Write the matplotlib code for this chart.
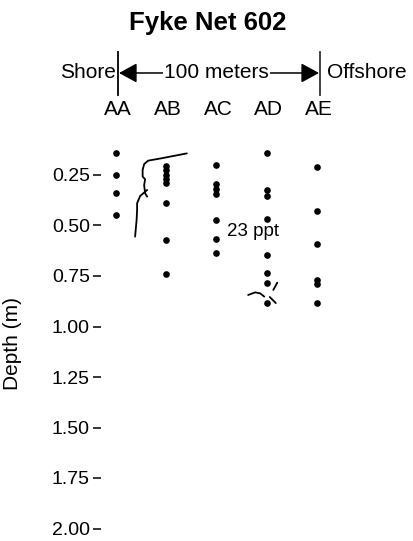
import matplotlib
matplotlib.use('Agg')
import matplotlib.pyplot as plt

plt.rcParams['font.family'] = ['Liberation Sans', 'DejaVu Sans']

# stations along the transect (shore -> offshore)
stations = ['AA', 'AB', 'AC', 'AD', 'AE']
depth_ticks = [0.25, 0.50, 0.75, 1.00, 1.25, 1.50, 1.75, 2.00]

# sample depths (m) at each station
aa_depths = [0.14, 0.25, 0.34, 0.45]
ab_depths = [0.203, 0.225, 0.248, 0.270, 0.290, 0.39, 0.57, 0.74]
ac_depths = [0.20, 0.295, 0.319, 0.344, 0.473, 0.568, 0.635]
ad_depths = [0.14, 0.324, 0.354, 0.47, 0.645, 0.735, 0.785, 0.885]
ae_depths = [0.21, 0.43, 0.59, 0.772, 0.792, 0.885]
all_depths = [aa_depths, ab_depths, ac_depths, ad_depths, ae_depths]

# hand drawn pen marks on the original sheet (station units, depth)
pen_a_x = [1.41, 0.91, 0.64, 0.56, 0.53, 0.53, 0.58, 0.56, 0.58, 0.62]
pen_a_y = [0.143, 0.167, 0.179, 0.196, 0.225, 0.258, 0.271, 0.30, 0.341, 0.357]
pen_b_x = [0.62, 0.48, 0.42, 0.42, 0.41, 0.38]
pen_b_y = [0.324, 0.354, 0.390, 0.423, 0.473, 0.555]
pen_c_x = [2.63, 2.77, 2.87, 2.95]
pen_c_y = [0.844, 0.831, 0.836, 0.852]
pen_d_x = [3.13, 3.21]
pen_d_y = [0.819, 0.783]
pen_e_x = [3.06, 3.18]
pen_e_y = [0.854, 0.884]

salinity_label = '23 ppt'
salinity_pos = (2.73, 0.53)

W, H = 414, 541
fig = plt.figure(figsize=(W / 100, H / 100), dpi=100)

# axes placed so that the depth scale sits where it does on the sheet
x0_px, col_px = 116.0, 50.25
d0_px, m_px = 124.5, 202.0
ax_left, ax_right = 101.0, 414.0
ax = fig.add_axes([ax_left / W, 0, (ax_right - ax_left) / W, 1])
ax.set_xlim((ax_left - x0_px) / col_px, (ax_right - x0_px) / col_px)
ax.set_ylim((H - d0_px) / m_px, (0 - d0_px) / m_px)

for i, depths in enumerate(all_depths):
    ax.plot([i] * len(depths), depths, 'o', color='black', ms=4.8, mew=0, clip_on=False)

for px, py in [(pen_a_x, pen_a_y), (pen_b_x, pen_b_y), (pen_c_x, pen_c_y),
               (pen_d_x, pen_d_y), (pen_e_x, pen_e_y)]:
    ax.plot(px, py, color='black', lw=1.3, solid_capstyle='round')

ax.text(salinity_pos[0], salinity_pos[1], salinity_label, fontsize=13.5,
        ha='center', va='center')

# header: station names, distance arrow, shore/offshore
head_y = -0.255
for i, name in enumerate(stations):
    ax.text(i + 0.04, -0.072, name, fontsize=15, ha='center', va='center', clip_on=False)

ax.plot([0.04, 0.04], [-0.359, -0.146], color='black', lw=1.3)
ax.plot([4.06, 4.06], [-0.359, -0.146], color='#333333', lw=1.3)
ax.annotate('', xy=(0.06, head_y), xytext=(4.04, head_y),
            arrowprops=dict(arrowstyle='<|-|>,head_length=0.55,head_width=0.3',
                            color='black', lw=1.1,
                            mutation_scale=20, shrinkA=0, shrinkB=0))
ax.text(2.0, head_y, '100 meters', fontsize=15, ha='center', va='center',
        bbox=dict(facecolor='white', edgecolor='none', pad=1))
ax.text(-0.01, head_y, 'Shore', fontsize=15, ha='right', va='center')
ax.text(4.2, head_y, 'Offshore', fontsize=15, ha='left', va='center')

ax.set_yticks(depth_ticks)
ax.set_yticklabels(['%.2f' % d for d in depth_ticks], fontsize=14)
ax.tick_params(axis='y', direction='out', length=6, width=1.1, pad=2)
ax.set_xticks([])
for s in ax.spines.values():
    s.set_visible(False)

ax.set_ylabel('Depth (m)', fontsize=15)
ax.yaxis.set_label_coords((22 - ax_left) / (ax_right - ax_left), 1 - 344 / H)

fig.text(208 / W, 1 - 23 / H, 'Fyke Net 602', fontsize=18.5, fontweight='bold',
         ha='center', va='center')

fig.savefig('out.png', dpi=100)
